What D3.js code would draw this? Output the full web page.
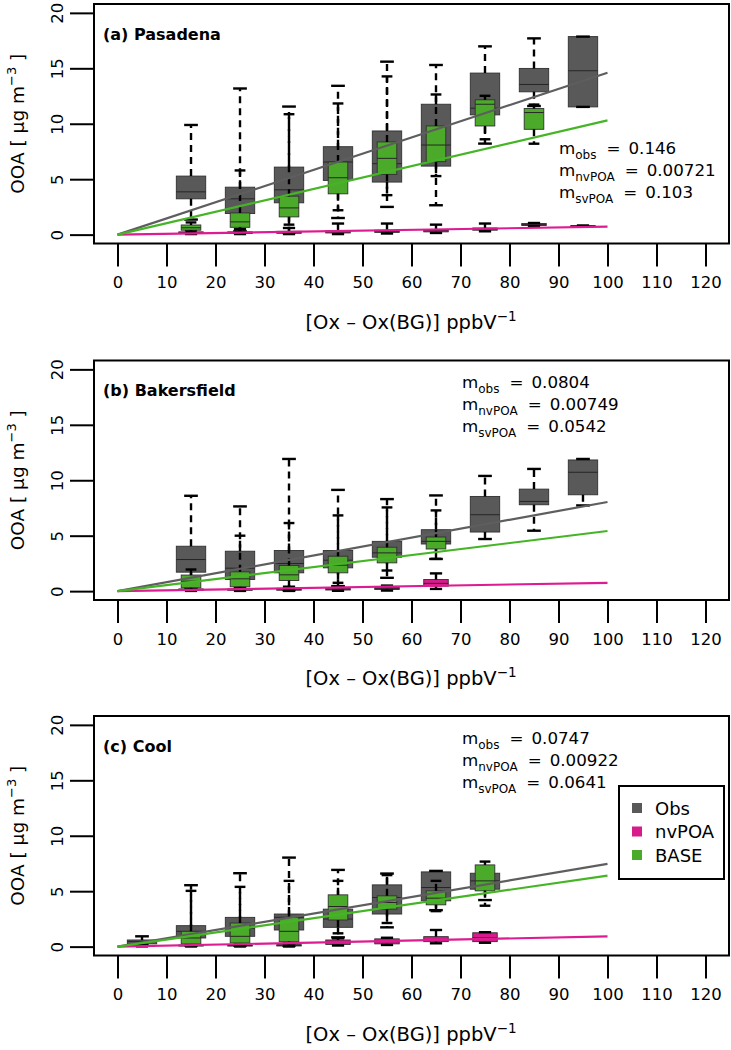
<!DOCTYPE html>
<html lang="en">
<head>
<meta charset="utf-8">
<title>OOA vs Ox boxplots</title>
<script src="https://d3js.org/d3.v7.min.js"></script>
<style>
  body { margin: 0; background: #fff; }
  svg text { font-family: "DejaVu Sans", sans-serif; }
</style>
</head>
<body>
<script>
// ---- data ----
// box stats per bin: [min, q1, median, q3, max]
var xTickValues = [0, 10, 20, 30, 40, 50, 60, 70, 80, 90, 100, 110, 120];
var yTickValues = [0, 5, 10, 15, 20];
var seriesNames = ["Obs", "nvPOA", "BASE"];

// (a) Pasadena
var pasBins = [15, 25, 35, 45, 55, 65, 75, 85, 95];
var pasObs = [[1.36, 3.23, 3.86, 5.28, 9.89], [0.3, 1.9, 3.23, 4.28, 13.18], [0.2, 2.87, 4.04, 6.09, 11.55],
              [1.5, 4.89, 6.55, 7.93, 13.42], [2.5, 4.74, 6.4, 9.35, 15.6], [2.65, 6.18, 8.08, 11.76, 15.3],
              [8.21, 10.8, 11.4, 14.57, 16.98], [11.6, 12.88, 13.54, 14.99, 17.7], [11.52, 11.52, 14.78, 17.86, 17.86]];
var pasNv = [[0.05, 0.1, 0.15, 0.25, 0.4], [0.05, 0.1, 0.15, 0.25, 0.5], [0.05, 0.12, 0.2, 0.3, 0.6],
             [0.05, 0.15, 0.25, 0.35, 1.0], [0.1, 0.2, 0.3, 0.4, 1.0], [0.15, 0.25, 0.35, 0.45, 0.9],
             [0.3, 0.4, 0.5, 0.6, 1.0], [0.75, 0.82, 0.9, 1.0, 1.05], [0.78, 0.79, 0.8, 0.81, 0.82]];
var pasBase = [[0.25, 0.4, 0.62, 0.87, 1.1], [0.2, 0.66, 1.15, 1.96, 5.79], [0.9, 1.6, 2.41, 3.47, 10.86],
               [2.2, 3.68, 5.13, 6.55, 11.83], [3.56, 5.43, 6.88, 8.36, 14.27], [5.28, 6.58, 8.08, 9.8, 12.64],
               [8.6, 9.8, 11.76, 12.16, 12.52], [8.2, 9.5, 11.01, 11.37, 11.73], null];
var pasSlopes = [0.146, 0.00721, 0.103];

// (b) Bakersfield
var bakBins = [15, 25, 35, 45, 55, 65, 75, 85, 95];
var bakObs = [[0.3, 1.71, 2.85, 4.05, 8.6], [0.2, 1.05, 2.07, 3.6, 7.64], [0.1, 1.65, 2.49, 3.66, 11.92],
              [0.45, 2.1, 2.79, 3.66, 9.13], [1.2, 3.06, 3.45, 4.49, 8.3], [2.9, 4.25, 4.49, 5.54, 8.63],
              [4.7, 5.33, 6.89, 8.54, 10.39], [5.45, 7.79, 8.09, 9.2, 11.02], [7.73, 8.69, 10.72, 11.83, 11.92]];
var bakNv = [[0.02, 0.08, 0.12, 0.2, 0.35], [0.02, 0.08, 0.12, 0.2, 0.35], [0.02, 0.08, 0.15, 0.25, 0.4],
             [0.03, 0.1, 0.18, 0.28, 0.45], [0.05, 0.15, 0.25, 0.35, 0.5], [0.2, 0.45, 0.7, 1.05, 1.6],
             null, null, null];
var bakBase = [[0.1, 0.3, 0.9, 1.45, 1.95], [0.1, 0.39, 1.11, 1.74, 5.0], [0.1, 0.96, 1.47, 2.31, 6.14],
               [0.75, 1.65, 2.34, 3.15, 6.83], [1.86, 2.55, 3.45, 3.96, 7.55], [2.91, 3.8, 4.49, 4.88, 7.28],
               null, null, null];
var bakSlopes = [0.0804, 0.00749, 0.0542];

// (c) Cool
var coolBins = [5, 15, 25, 35, 45, 55, 65, 75];
var coolObs = [[0.1, 0.25, 0.45, 0.6, 0.93], [0.1, 0.78, 1.38, 1.89, 5.54], [0.1, 0.93, 1.65, 2.64, 6.62],
               [0.1, 1.5, 2.64, 2.94, 8.03], [0.84, 1.74, 2.49, 3.38, 6.92], [1.74, 2.94, 4.43, 5.57, 6.59],
               [3.29, 4.13, 5.33, 6.74, 6.83], [4.2, 5.18, 5.93, 6.62, 6.75]];
var coolNv = [[0.02, 0.05, 0.08, 0.1, 0.15], [0.02, 0.05, 0.1, 0.15, 0.25], [0.02, 0.05, 0.1, 0.15, 0.25],
              [0.02, 0.06, 0.12, 0.18, 0.3], [0.1, 0.2, 0.4, 0.6, 0.75], [0.15, 0.25, 0.45, 0.7, 0.8],
              [0.3, 0.45, 0.6, 0.9, 1.5], [0.35, 0.45, 0.8, 1.25, 1.3]];
var coolBase = [null, [0.05, 0.24, 0.78, 1.38, 5.03], [0.05, 0.33, 0.93, 2.13, 5.39], [0.05, 0.45, 1.38, 2.64, 5.93],
                [1.2, 2.4, 3.62, 4.67, 5.93], [2.13, 3.38, 3.98, 4.58, 6.45], [3.2, 3.77, 4.37, 5.03, 5.93],
                [3.69, 5.03, 5.93, 7.37, 7.67]];
var coolSlopes = [0.0747, 0.00922, 0.0641];

var panels = [
  { title: "(a) Pasadena", bins: pasBins, series: [pasObs, pasNv, pasBase], slopes: pasSlopes, top: 4, textX: 559, textY: 154, legend: false },
  { title: "(b) Bakersfield", bins: bakBins, series: [bakObs, bakNv, bakBase], slopes: bakSlopes, top: 360.5, textX: 462, textY: 388, legend: false },
  { title: "(c) Cool", bins: coolBins, series: [coolObs, coolNv, coolBase], slopes: coolSlopes, top: 716, textX: 462, textY: 744, legend: true }
];

// ---- styling ----
var w = 731, h = 1050;
var boxH = 239.5;
var fills = ["#595959", "#d81b8c", "#4caa2a"];
var lineCols = ["#5e5e5e", "#dd1c91", "#45b526"];
var halfW = [3, 2.5, 2];      // half box width in x units
var stapleW = [1.4, 1.25, 1.1]; // half staple width in x units
var subs = ["obs", "nvPOA", "svPOA"];

var svg = d3.select("body").append("svg")
  .attr("width", w).attr("height", h);

svg.append("rect").attr("width", w).attr("height", h).attr("fill", "#fff");

var x = d3.scaleLinear().domain([-4.8, 124.8]).range([94, 729]);

panels.forEach(function(p) {
  var y = d3.scaleLinear().domain([-0.8, 20.8]).range([p.top + boxH, p.top]);
  var g = svg.append("g");

  // boxes: Obs, then nvPOA, then BASE
  p.series.forEach(function(s, si) {
    s.forEach(function(st, i) {
      if (!st) return;
      var b = p.bins[i];
      var x0 = x(b - halfW[si]), x1 = x(b + halfW[si]), xc = x(b);
      var bg = g.append("g");
      bg.append("rect")
        .attr("x", x0).attr("y", y(st[3]))
        .attr("width", x1 - x0).attr("height", Math.max(0.8, y(st[1]) - y(st[3])))
        .attr("fill", fills[si]).attr("stroke", "#303030").attr("stroke-width", 0.9);
      bg.append("line")
        .attr("x1", x0).attr("x2", x1).attr("y1", y(st[2])).attr("y2", y(st[2]))
        .attr("stroke", "#262626").attr("stroke-width", 1);
      // whiskers
      [[st[3], st[4]], [st[1], st[0]]].forEach(function(seg) {
        if (Math.abs(y(seg[0]) - y(seg[1])) < 0.5) return;
        bg.append("line")
          .attr("x1", xc).attr("x2", xc).attr("y1", y(seg[0])).attr("y2", y(seg[1]))
          .attr("stroke", "#000").attr("stroke-width", 2.4).attr("stroke-dasharray", "7,5");
      });
      // staples
      [st[0], st[4]].forEach(function(v) {
        bg.append("line")
          .attr("x1", x(b - stapleW[si])).attr("x2", x(b + stapleW[si]))
          .attr("y1", y(v)).attr("y2", y(v))
          .attr("stroke", "#000").attr("stroke-width", 2.4);
      });
    });
  });

  // regression lines through the origin, x from 0 to 100
  [0, 1, 2].forEach(function(si) {
    g.append("line")
      .attr("x1", x(0)).attr("y1", y(0))
      .attr("x2", x(100)).attr("y2", y(100 * p.slopes[si]))
      .attr("stroke", lineCols[si]).attr("stroke-width", 2.2);
  });

  // frame
  g.append("rect")
    .attr("x", x.range()[0]).attr("y", p.top)
    .attr("width", x.range()[1] - x.range()[0]).attr("height", boxH)
    .attr("fill", "none").attr("stroke", "#000").attr("stroke-width", 2);

  // x axis
  var xa = g.append("g")
    .attr("transform", "translate(0," + (p.top + boxH) + ")")
    .call(d3.axisBottom(x).tickValues(xTickValues).tickSize(23).tickPadding(10));
  xa.select(".domain").remove();
  xa.selectAll("line").attr("stroke", "#000").attr("stroke-width", 2);
  xa.selectAll("text").attr("font-size", 16.5).attr("fill", "#000")
    .attr("font-family", "DejaVu Sans, sans-serif");

  // y axis
  var ya = g.append("g")
    .attr("transform", "translate(" + x.range()[0] + ",0)")
    .call(d3.axisLeft(y).tickValues(yTickValues).tickSize(24));
  ya.select(".domain").remove();
  ya.selectAll("line").attr("stroke", "#000").attr("stroke-width", 2);
  ya.selectAll("text")
    .attr("font-size", 16.5).attr("fill", "#000")
    .attr("font-family", "DejaVu Sans, sans-serif")
    .attr("text-anchor", "middle")
    .attr("transform", "rotate(-90)")
    .attr("x", 0).attr("y", -31).attr("dy", null);

  // y title
  var yt = g.append("text")
    .attr("transform", "translate(24," + (p.top + boxH / 2) + ") rotate(-90)")
    .attr("text-anchor", "middle").attr("font-size", 18.5);
  yt.append("tspan").text("OOA [ \u00b5g m");
  yt.append("tspan").attr("dy", -8).attr("font-size", 13).text("\u22123");
  yt.append("tspan").attr("dy", 8).text(" ]");

  // x title
  var xt = g.append("text")
    .attr("x", 411).attr("y", p.top + boxH + 85)
    .attr("text-anchor", "middle").attr("font-size", 19.5);
  xt.append("tspan").text("[Ox \u2013 Ox(BG)] ppbV");
  xt.append("tspan").attr("dy", -8).attr("font-size", 13.5).text("\u22121");

  // panel title
  g.append("text")
    .attr("x", 103).attr("y", p.top + 35.5)
    .attr("font-size", 16).attr("font-weight", "bold")
    .text(p.title);

  // slope annotations
  subs.forEach(function(sub, k) {
    var t = g.append("text")
      .attr("x", p.textX).attr("y", p.textY + k * 22)
      .attr("font-size", 16.7);
    t.append("tspan").text("m");
    t.append("tspan").attr("dy", 5).attr("font-size", 12).text(sub);
    t.append("tspan").attr("dy", -5).attr("dx", 10).text("=");
    t.append("tspan").attr("dx", 8).text(String(p.slopes[k === 1 ? 1 : (k === 0 ? 0 : 2)]));
  });

  // legend
  if (p.legend) {
    var lg = g.append("g");
    lg.append("rect")
      .attr("x", 619).attr("y", 786).attr("width", 105).attr("height", 93)
      .attr("fill", "#fff").attr("stroke", "#000").attr("stroke-width", 2);
    seriesNames.forEach(function(name, k) {
      var cy = 808 + k * 23.5;
      lg.append("rect")
        .attr("x", 632).attr("y", cy - 5).attr("width", 10).attr("height", 10)
        .attr("fill", fills[k]);
      lg.append("text")
        .attr("x", 655).attr("y", cy + 6.5).attr("font-size", 18).text(name);
    });
  }
});
</script>
</body>
</html>
